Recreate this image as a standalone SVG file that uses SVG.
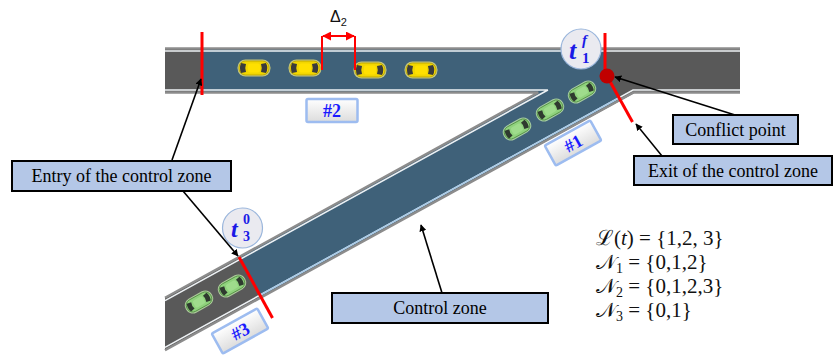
<svg xmlns="http://www.w3.org/2000/svg" width="833" height="359" viewBox="0 0 833 359">
  <defs>
    <style>
      .edge-out { fill: none; stroke: #8c8c8c; stroke-width: 2.5; }
      .edge-in { fill: none; stroke: #eef2f5; stroke-width: 1.5; }
      .zone-line { fill: none; stroke: #ff0000; stroke-width: 3; }
      .callout rect { fill: #b4c7e7; stroke: #000; stroke-width: 2; }
      .callout text { font-family: "Liberation Serif", "Times New Roman", serif; font-size: 18px; fill: #000; text-anchor: middle; }
      .lane-tag rect { fill: url(#tagFill); stroke: #9dbcf0; stroke-width: 2.5; }
      .lane-tag text { font-family: "Liberation Serif", serif; font-weight: bold; font-size: 18px; fill: #1a1aff; text-anchor: middle; }
      .time-badge circle { fill: #eaeaf0; stroke: #9ab6dc; stroke-width: 1.2; }
      .time-badge text { font-family: "Liberation Serif", serif; font-weight: bold; font-style: italic; fill: #1a1ae6; }
      .time-badge text.idx { font-style: normal; }
      .pointer { fill: none; stroke: #000; stroke-width: 1.6; marker-end: url(#arrowBlack); }
      .math { font-family: "Liberation Serif", "DejaVu Serif", serif; font-size: 21px; fill: #111; }
    </style>
    <linearGradient id="tagFill" x1="0" y1="0" x2="0" y2="1">
      <stop offset="0" stop-color="#ffffff"/>
      <stop offset="1" stop-color="#dcdcdc"/>
    </linearGradient>
    <marker id="arrowBlack" viewBox="0 0 10 10" refX="9" refY="5" markerWidth="7" markerHeight="7" markerUnits="userSpaceOnUse" orient="auto">
      <path d="M0,0 L10,5 L0,10 Z" fill="#000"/>
    </marker>
    <marker id="arrowRed" viewBox="0 0 10 10" refX="9" refY="5" markerWidth="9" markerHeight="9" markerUnits="userSpaceOnUse" orient="auto-start-reverse">
      <path d="M0,0 L10,5 L0,10 Z" fill="#ff0000"/>
    </marker>
    <!-- top-down car, front pointing to +x -->
    <g id="carYellow">
      <rect x="-16.5" y="-8.5" width="33" height="17" rx="8" fill="#fff27a" opacity="0.7"/>
      <rect x="-15" y="-7" width="30" height="14" rx="6.5" fill="#f2d600" stroke="#b59f00" stroke-width="0.8"/>
      <path d="M-13,-5 Q-15,0 -13,5 L-8,4 Q-9.5,0 -8,-4 Z" fill="#3b3b3b"/>
      <path d="M12,-5 Q14.5,0 12,5 L7,4 Q8.5,0 7,-4 Z" fill="#3b3b3b"/>
      <rect x="-6" y="-4.5" width="12" height="9" rx="2" fill="#ffe000"/>
    </g>
    <g id="carGreen">
      <rect x="-15" y="-8" width="30" height="16" rx="7.5" fill="#c8f0b0" opacity="0.75"/>
      <rect x="-13.5" y="-6.5" width="27" height="13" rx="6" fill="#8fd27c" stroke="#4f8a40" stroke-width="0.8"/>
      <path d="M-11.5,-4.5 Q-13.5,0 -11.5,4.5 L-7,3.5 Q-8.5,0 -7,-3.5 Z" fill="#2f3a2f"/>
      <path d="M11,-4.5 Q13,0 11,4.5 L6.5,3.5 Q8,0 6.5,-3.5 Z" fill="#2f3a2f"/>
      <rect x="-5.5" y="-4" width="11" height="8" rx="2" fill="#9fdc8c"/>
    </g>
  </defs>

  <rect width="833" height="359" fill="#ffffff"/>

  <!-- road surface -->
  <g id="roads">
    <path d="M165,48 H740 V93 H634.5 L165,350.25 V297.75 L537.3,93 H165 Z" fill="#595959"/>
    <!-- control zone -->
    <path id="control-zone-area" d="M239,257 L537.3,93 H202 V48 H605 V76 L618.6,100.8 L261.2,297.3 Z" fill="#3f6179"/>
    <!-- road edges -->
    <path class="edge-out" d="M165,48.5 H740"/>
    <path class="edge-out" d="M740,92.5 H633.6 L165,350.25"/>
    <path class="edge-out" d="M165,92.5 H538.2 L165,297.75"/>
    <path class="edge-in" d="M165,51 H740"/>
    <path class="edge-in" d="M740,90 H633 L165,347.4"/>
    <path class="edge-in" d="M165,90 H547.9 L165,300.6"/>
    <path d="M618.6,98 L261.2,294.5" fill="none" stroke="#a9cbe8" stroke-width="1.6"/>
  </g>

  <!-- vehicles -->
  <g id="vehicles-road2">
    <use href="#carYellow" transform="translate(254,68)"/>
    <use href="#carYellow" transform="translate(305,68)"/>
    <use href="#carYellow" transform="translate(370,70)"/>
    <use href="#carYellow" transform="translate(421,70)"/>
  </g>
  <g id="vehicles-road1">
    <use href="#carGreen" transform="translate(517,129) rotate(-29)"/>
    <use href="#carGreen" transform="translate(550,110) rotate(-29)"/>
    <use href="#carGreen" transform="translate(582,92) rotate(-29)"/>
  </g>
  <g id="vehicles-road3">
    <use href="#carGreen" transform="translate(199,302) rotate(-29)"/>
    <use href="#carGreen" transform="translate(232,286) rotate(-29)"/>
  </g>

  <!-- zone boundaries -->
  <g id="zone-boundaries">
    <line class="zone-line" x1="202" y1="32" x2="202" y2="95"/>
    <line class="zone-line" x1="605" y1="33" x2="605" y2="76"/>
    <line class="zone-line" x1="607" y1="76" x2="632.5" y2="122"/>
    <line class="zone-line" x1="239" y1="257" x2="272.5" y2="318"/>
    <circle id="conflict-dot" cx="607" cy="76" r="7.5" fill="#c00000"/>
  </g>

  <!-- headway marker -->
  <g id="headway">
    <path d="M322,70 V36 M355,70 V36" fill="none" stroke="#ff0000" stroke-width="2"/>
    <line x1="323" y1="36" x2="354" y2="36" stroke="#ff0000" stroke-width="2" marker-start="url(#arrowRed)" marker-end="url(#arrowRed)"/>
    <text x="330" y="22" font-family="Liberation Sans, Arial, sans-serif" font-size="16" fill="#111">Δ<tspan font-size="11" dy="4">2</tspan></text>
  </g>

  <!-- lane tags -->
  <g id="tag-2" class="lane-tag">
    <rect x="306.5" y="99" width="51" height="23" rx="1.5"/>
    <text x="332" y="117">#2</text>
  </g>
  <g id="tag-1" class="lane-tag" transform="translate(573,143) rotate(-29)">
    <rect x="-26" y="-11.5" width="52" height="23" rx="1.5"/>
    <text x="0" y="6.5">#1</text>
  </g>
  <g id="tag-3" class="lane-tag" transform="translate(240,331) rotate(-29)">
    <rect x="-26" y="-11.5" width="52" height="23" rx="1.5"/>
    <text x="0" y="6.5">#3</text>
  </g>

  <!-- time badges -->
  <g id="badge-t1f" class="time-badge">
    <circle cx="581" cy="49" r="20"/>
    <text x="569" y="59" font-size="26">t</text>
    <text x="582" y="45" font-size="15">f</text>
    <text class="idx" x="582" y="63" font-size="15">1</text>
  </g>
  <g id="badge-t30" class="time-badge">
    <circle cx="242.5" cy="228" r="20"/>
    <text x="231" y="237" font-size="24">t</text>
    <text class="idx" x="243" y="224" font-size="14">0</text>
    <text class="idx" x="243" y="241" font-size="14">3</text>
  </g>

  <!-- callouts -->
  <g id="callout-entry" class="callout">
    <rect x="12" y="161" width="219" height="30"/>
    <text x="121.5" y="182">Entry of the control zone</text>
  </g>
  <g id="callout-conflict" class="callout">
    <rect x="673" y="115" width="125" height="29"/>
    <text x="735.5" y="135.5">Conflict point</text>
  </g>
  <g id="callout-exit" class="callout">
    <rect x="634" y="156" width="198" height="29"/>
    <text x="733" y="176.5">Exit of the control zone</text>
  </g>
  <g id="callout-zone" class="callout">
    <rect x="332" y="293" width="216" height="30"/>
    <text x="440" y="314">Control zone</text>
  </g>

  <!-- pointers -->
  <g id="connectors">
    <line class="pointer" x1="172" y1="160" x2="201" y2="79"/>
    <line class="pointer" x1="183" y1="191" x2="238" y2="256"/>
    <line class="pointer" x1="735" y1="115" x2="615" y2="77"/>
    <line class="pointer" x1="662" y1="156" x2="636" y2="124"/>
    <line class="pointer" x1="442" y1="293" x2="421" y2="225"/>
  </g>

  <!-- sets -->
  <g id="sets" class="math">
    <text x="596" y="245">ℒ(<tspan font-style="italic">t</tspan>) = {1,2, 3}</text>
    <text x="596" y="269">𝒩<tspan font-size="14" dy="4">1</tspan><tspan dy="-4"> = {0,1,2}</tspan></text>
    <text x="596" y="293">𝒩<tspan font-size="14" dy="4">2</tspan><tspan dy="-4"> = {0,1,2,3}</tspan></text>
    <text x="596" y="317">𝒩<tspan font-size="14" dy="4">3</tspan><tspan dy="-4"> = {0,1}</tspan></text>
  </g>
</svg>
